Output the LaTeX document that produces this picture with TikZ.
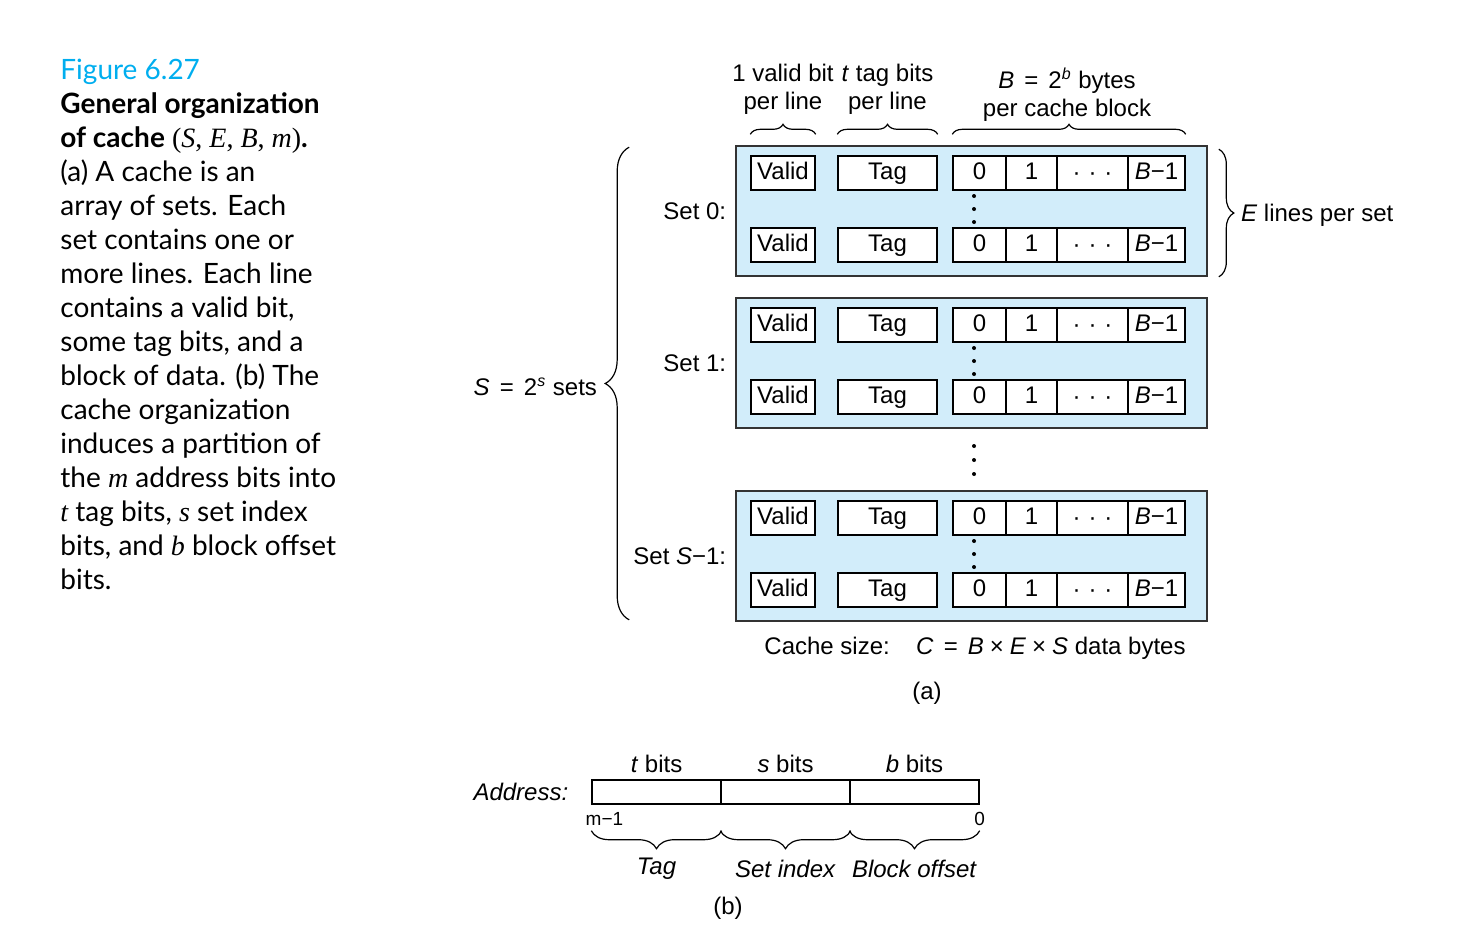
\documentclass[tikz,border=0pt]{standalone}
\usepackage{fontspec}
\setmainfont{Liberation Sans}
\newfontfamily\capfont{Lato}
\newfontfamily\seriffont{Liberation Serif}
\usetikzlibrary{decorations.pathreplacing}
\definecolor{setfill}{RGB}{210,237,250}
\definecolor{figcyan}{RGB}{0,174,239}
\newcommand\vr[1]{{\seriffont\itshape #1}}
\newcommand\celldots{\raisebox{-0.8pt}{·}\hspace{4pt}\raisebox{-0.8pt}{·}\hspace{4pt}\raisebox{-0.8pt}{·}}
\newcommand\eqs{\hspace{0.42em}=\hspace{0.42em}}
\newcommand\tms{\hspace{0.25em}×\hspace{0.25em}}
\tikzset{
  setbox/.style={draw=black!80, fill=setfill, line width=0.8pt, minimum width=235.5pt, minimum height=65pt, inner sep=0pt},
  cell/.style={draw, fill=white, line width=0.7pt, minimum height=17pt, inner sep=0pt, text height=8.6pt, text depth=2.4pt},
  addr/.style={draw, line width=0.7pt, minimum width=64.5pt, minimum height=12pt, inner sep=0pt},
  brc/.style={decorate, decoration={brace, amplitude=#1}, line width=0.6pt},
  brc/.default=5pt,
  small/.style={font=\fontsize{9.5}{11}\selectfont, inner sep=0pt}
}
\begin{document}
\begin{tikzpicture}[x=0.5pt, y=-0.5pt, font=\fontsize{12}{14}\selectfont]
    \useasboundingbox (0,0) rectangle (1466,934);

    % caption
    \node[anchor=north west, align=left, inner sep=0pt, font=\capfont\fontsize{14}{17}\selectfont] (caption) at (60,59)
        {{\color{figcyan}Figure 6.27}\\
         \textbf{General organization}\\
         \textbf{of cache} {\seriffont(\textit{S}, \textit{E}, \textit{B}, \textit{m})}\textbf{.}\\
         (a) A cache is an\\
         array of sets. Each\\
         set contains one or\\
         more lines. Each line\\
         contains a valid bit,\\
         some tag bits, and a\\
         block of data. (b) The\\
         cache organization\\
         induces a partition of\\
         the \vr{m} address bits into\\
         \vr{t} tag bits, \vr{s} set index\\
         bits, and \vr{b} block offset\\
         bits.};

    % (a) sets and lines
    \foreach \st/\nm/\lab in {146/s0/{Set 0:}, 298/s1/{Set 1:}, 491/sS/{Set \textit{S}−1:}} {
        \node[setbox] (\nm) at (971.5,\st+65) {};
        \node[anchor=east] (\nm-lab) at ([xshift=-1pt]\nm.west) {\lab};
        \foreach \r/\rn in {27/a, 99/b} {
            \node[cell, minimum width=32pt] (\nm-\rn-valid) at (783,\st+\r) {Valid};
            \node[cell, minimum width=49.5pt] (\nm-\rn-tag) at (887.5,\st+\r) {Tag};
            \node[cell, minimum width=26.5pt] (\nm-\rn-d0) at (979.5,\st+\r) {0};
            \node[cell, minimum width=25.5pt] (\nm-\rn-d1) at (1031.5,\st+\r) {1};
            \node[cell, minimum width=35.5pt] (\nm-\rn-dots) at (1092.5,\st+\r) {\celldots};
            \node[cell, minimum width=28.5pt] (\nm-\rn-dB) at (1156.5,\st+\r) {\textit{B}−1};
        }
        \foreach \d in {50, 63, 76}
            \fill (974,\st+\d) circle (1pt);
    }
    \foreach \d in {446, 460, 474}
        \fill (974,\d) circle (1pt);

    % braces and labels of (a)
    \draw[brc] ([yshift=10.5pt]s0-a-valid.north west) -- ([yshift=10.5pt]s0-a-valid.north east);
    \draw[brc] ([yshift=10.5pt]s0-a-tag.north west) -- ([yshift=10.5pt]s0-a-tag.north east);
    \draw[brc] ([yshift=10.5pt]s0-a-d0.north west) -- ([yshift=10.5pt]s0-a-dB.north east);
    \node[anchor=south, align=center, inner sep=0pt] (vlab) at ([yshift=20pt]s0-a-valid.north) {1 valid bit\\per line};
    \node[anchor=south, align=center, inner sep=0pt] (tlab) at ([yshift=20pt]s0-a-tag.north) {\textit{t} tag bits\\per line};
    \node[anchor=south, align=center, inner sep=0pt] (blab) at (1067,122) {\textit{B}\eqs 2\textsuperscript{\textit{b}} bytes\\per cache block};

    \draw[brc=7.5pt] ([xshift=5.5pt,yshift=-2pt]s0.north east) -- ([xshift=5.5pt]s0.south east);
    \node[anchor=west] (elab) at (1234,215) {\textit{E} lines per set};

    \draw[brc=12pt] ([xshift=-53pt,yshift=1pt]sS.south west) -- ([xshift=-53pt,yshift=-1pt]s0.north west);
    \node[anchor=east] (slab) at (604,387) {\textit{S}\eqs 2\textsuperscript{\textit{s}} sets};

    \node (csize) at (975,648) {Cache size:\hspace{1.1em}\textit{C}\eqs\textit{B}\tms\textit{E}\tms\textit{S} data bytes};
    \node (alab) at (927,693) {(a)};

    % (b) address
    \node[addr] (at) at (656.5,792) {};
    \node[addr] (as) at (785.5,792) {};
    \node[addr] (ab) at (914.5,792) {};
    \node[anchor=east] (addrlab) at ([xshift=-8pt]at.west) {\textit{Address:}};
    \node (tbits) at ([yshift=7.5pt]at.north) {\textit{t} bits};
    \node (sbits) at ([yshift=7.5pt]as.north) {\textit{s} bits};
    \node (bbits) at ([yshift=7.5pt]ab.north) {\textit{b} bits};
    \node[small, anchor=west] (msb) at ([xshift=-3pt,yshift=-7pt]at.south west) {m−1};
    \node[small] (lsb) at ([yshift=-7pt]ab.south east) {0};

    \draw[brc=9pt] ([yshift=-13pt]at.south east) -- ([yshift=-13pt]at.south west);
    \draw[brc=9pt] ([yshift=-13pt]as.south east) -- ([yshift=-13pt]as.south west);
    \draw[brc=9pt] ([yshift=-13pt]ab.south east) -- ([yshift=-13pt]ab.south west);
    \node (tagf) at ([yshift=-32pt]at.south) {\textit{Tag}};
    \node (setf) at ([yshift=-32pt]as.south) {\textit{Set index}};
    \node (offf) at ([yshift=-32pt]ab.south) {\textit{Block offset}};
    \node (blab2) at (728,908) {(b)};
\end{tikzpicture}
\end{document}
